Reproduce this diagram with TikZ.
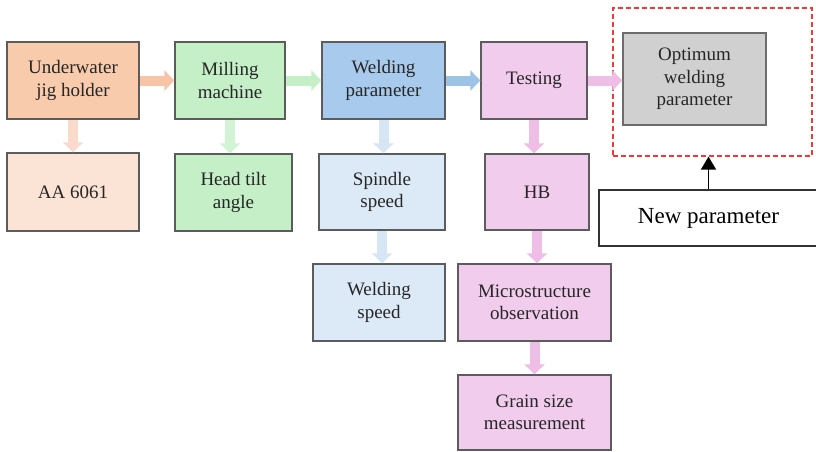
\documentclass[tikz,border=0pt]{standalone}
\usepackage{fontspec}
\setmainfont{Liberation Serif}
\usepackage{tikz}
\usetikzlibrary{arrows.meta}

\definecolor{orgA}{HTML}{F8CBAD}\definecolor{orgB}{HTML}{FBE3D5}
\definecolor{grnA}{HTML}{C4EFC7}\definecolor{bluA}{HTML}{A8CAEC}
\definecolor{bluB}{HTML}{DCE9F6}\definecolor{pnkA}{HTML}{F1CCEC}
\definecolor{gryA}{HTML}{D0D0D0}\definecolor{edge}{HTML}{5C5C5C}
\definecolor{txt}{HTML}{262626}

\tikzset{
  box/.style={draw=edge,line width=1.4pt,align=center,text=txt,inner sep=0pt,
    font=\fontsize{19}{22.5}\selectfont},
  barrow/.style={line width=10pt,-{Triangle[length=10pt,width=20pt]}},
}

\begin{document}
\begin{tikzpicture}[x=1pt,y=-1pt] % 1pt 对应一个像素
	\useasboundingbox[fill=white] (0,0) rectangle (816,452);
	% 第一行
	\node[box,fill=orgA,minimum width=132pt,minimum height=77pt](UJ) at (73,80.5) {Underwater\\jig holder};
	\node[box,fill=grnA,minimum width=110pt,minimum height=77pt](MM) at (230,80.5) {Milling\\machine};
	\node[box,fill=bluA,minimum width=123pt,minimum height=77pt](WP) at (383.5,80.5) {Welding\\parameter};
	\node[box,fill=pnkA,minimum width=106pt,minimum height=77pt](TE) at (534,80.5) {Testing};
	\node[box,fill=gryA,draw=edge!90,minimum width=143pt,minimum height=92pt](OW) at (694.5,79) {Optimum\\welding\\parameter};
	% 第二行
	\node[box,fill=orgB,minimum width=132pt,minimum height=78pt](AA) at (73,192) {AA 6061};
	\node[box,fill=grnA,minimum width=117pt,minimum height=77pt](HT) at (233.5,192.5) {Head tilt\\angle};
	\node[box,fill=bluB,minimum width=126pt,minimum height=76pt](SS) at (382,192) {Spindle\\speed};
	\node[box,fill=pnkA,minimum width=104pt,minimum height=76pt](HB) at (537,192) {HB};
	% 第三、四行
	\node[box,fill=bluB,minimum width=132pt,minimum height=77pt](WS) at (379,302.5) {Welding\\speed};
	\node[box,fill=pnkA,minimum width=153pt,minimum height=77pt](MO) at (534.5,302.5) {Microstructure\\observation};
	\node[box,fill=pnkA,minimum width=153pt,minimum height=75pt](GS) at (534.5,412.5) {Grain size\\measurement};
	% 虚线框与新参数
	\node[draw={rgb,255:red,255;green,51;blue,51},line width=1.2pt,dash pattern=on 5pt off 3pt,
		minimum width=199pt,minimum height=148pt](RB) at (712.5,82) {};
	\node[box,fill=white,draw=black!80,minimum width=219pt,minimum height=56pt,
		font=\fontsize{23}{26}\selectfont,text=black](NP) at (708.5,218) {New parameter};

	% 箭头
	\draw[barrow,color={rgb,255:red,247;green,196;blue,168}] (UJ) -- (MM);
	\draw[barrow,color={rgb,255:red,196;green,239;blue,199}] (MM) -- (WP);
	\draw[barrow,color={rgb,255:red,157;green,195;blue,230}] (WP) -- (TE);
	\draw[barrow,color={rgb,255:red,238;green,190;blue,230}] (TE.east) -- (TE.east -| OW.west);
	\draw[barrow,color={rgb,255:red,250;green,219;blue,203}] (UJ) -- (AA);
	\draw[barrow,color={rgb,255:red,210;green,243;blue,212}] (MM.south) -- (MM.south |- HT.north);
	\draw[barrow,color={rgb,255:red,214;green,230;blue,245}] (WP.south) -- (WP.south |- SS.north);
	\draw[barrow,color={rgb,255:red,214;green,230;blue,245}] (SS.south) -- (SS.south |- WS.north);
	\draw[barrow,color={rgb,255:red,238;green,190;blue,230}] (TE.south) -- (TE.south |- HB.north);
	\draw[barrow,color={rgb,255:red,238;green,190;blue,230}] (HB.south) -- (HB.south |- MO.north);
	\draw[barrow,color={rgb,255:red,238;green,190;blue,230}] (MO) -- (GS);
	\draw[line width=1.5pt,-{Triangle[length=13pt,width=15pt]}] (NP.north) -- (NP.north |- RB.south);
\end{tikzpicture}
\end{document}
